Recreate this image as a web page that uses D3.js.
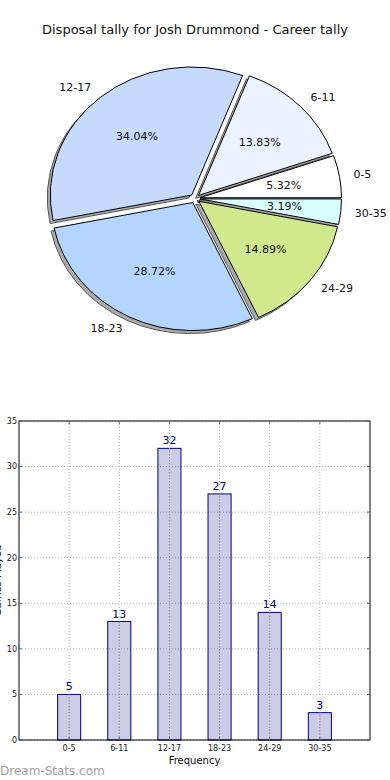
<!DOCTYPE html>
<html><head><meta charset="utf-8">
<script src="https://cdn.jsdelivr.net/npm/d3@7"></script>
<style>body{margin:0;background:#fff}svg{display:block;font-family:"DejaVu Sans",sans-serif}</style>
</head><body>
<svg id="c" width="390" height="780"></svg>
<script>
const categories = ["0-5","6-11","12-17","18-23","24-29","30-35"];
const values = [5,13,32,27,14,3];
const pieColors = ["#ffffff","#eaf1ff","#c6d9ff","#b3d5ff","#cfe98c","#daffff"];
const yTicks = [0,5,10,15,20,25,30,35];
const title = "Disposal tally for Josh Drummond - Career tally";
const xLabel = "Frequency";
const yLabel = "Games Played";

const svg = d3.select("#c");
svg.append("text").attr("x",195).attr("y",34).attr("text-anchor","middle")
  .attr("font-size",13).attr("fill","#111").text(title);

// ---- Pie ----
const cx=195, cy=198.5, rx=141.5, ratio=0.905, d=5;
const total = d3.sum(values);
const pie = d3.pie().sort(null).value(v=>v)
  .startAngle(Math.PI/2).endAngle(Math.PI/2 - 2*Math.PI);
const arcs = pie(values);
const arc = d3.arc().innerRadius(0).outerRadius(rx);
const g = svg.append("g");
arcs.forEach((a,i)=>{
  const mid = (a.startAngle + a.endAngle)/2;
  const ox = d*Math.sin(mid), oy = -d*Math.cos(mid)*ratio;
  g.append("path").attr("d",arc(a))
    .attr("transform",`translate(${cx+ox-3},${cy+oy+3}) scale(1,${ratio})`)
    .attr("fill","#888").attr("fill-opacity",0.7)
    .attr("stroke","#555").attr("stroke-width",1).attr("vector-effect","non-scaling-stroke");
});
arcs.forEach((a,i)=>{
  const mid = (a.startAngle + a.endAngle)/2;
  const ox = d*Math.sin(mid), oy = -d*Math.cos(mid)*ratio;
  g.append("path").attr("d",arc(a))
    .attr("transform",`translate(${cx+ox},${cy+oy}) scale(1,${ratio})`)
    .attr("fill",pieColors[i]).attr("stroke","#000").attr("stroke-width",1)
    .attr("vector-effect","non-scaling-stroke");
  const lx = cx + ox + 1.1*rx*Math.sin(mid);
  const ly = cy + oy - 1.1*rx*Math.cos(mid)*ratio;
  g.append("text").attr("x",lx).attr("y",ly).attr("dy","0.35em")
    .attr("text-anchor", Math.sin(mid) >= 0 ? "start" : "end")
    .attr("font-size",11).attr("fill","#111").text(categories[i]);
  const px = cx + ox + 0.6*rx*Math.sin(mid);
  const py = cy + oy - 0.6*rx*Math.cos(mid)*ratio;
  g.append("text").attr("x",px).attr("y",py).attr("dy","0.35em")
    .attr("text-anchor","middle").attr("font-size",11).attr("fill","#111")
    .text((100*values[i]/total).toFixed(2)+"%");
});

// ---- Bar chart ----
const L=19, R=370, T=421, B=740;
const x = d3.scaleLinear().domain([-1,6]).range([L,R]);
const y = d3.scaleLinear().domain([0,35]).range([B,T]);
const bg = svg.append("g");
yTicks.forEach(t=>{
  bg.append("line").attr("x1",L).attr("x2",R).attr("y1",y(t)).attr("y2",y(t))
    .attr("stroke","#b8b8b8").attr("stroke-dasharray","1,2");
});
categories.forEach((c,i)=>{
  bg.append("line").attr("x1",x(i)).attr("x2",x(i)).attr("y1",T).attr("y2",B)
    .attr("stroke","#b8b8b8").attr("stroke-dasharray","1,2");
});
const bw = 0.46;
categories.forEach((c,i)=>{
  bg.append("rect").attr("x",x(i-bw/2)).attr("width",x(bw)-x(0))
    .attr("y",y(values[i])).attr("height",y(0)-y(values[i]))
    .attr("fill","#000080").attr("fill-opacity",0.2)
    .attr("stroke","#000080").attr("stroke-width",1);
  bg.append("text").attr("x",x(i)).attr("y",y(values[i])-4).attr("text-anchor","middle")
    .attr("font-size",11).attr("fill","#000080").text(values[i]);
});
categories.forEach((c,i)=>{
  bg.append("line").attr("x1",x(i)).attr("x2",x(i)).attr("y1",y(values[i])).attr("y2",B)
    .attr("stroke","#9a9ab8").attr("stroke-dasharray","1,2");
});
bg.append("rect").attr("x",L).attr("y",T).attr("width",R-L).attr("height",B-T)
  .attr("fill","none").attr("stroke","#000").attr("stroke-width",1);
yTicks.forEach(t=>{
  bg.append("line").attr("x1",L).attr("x2",L+3).attr("y1",y(t)).attr("y2",y(t)).attr("stroke","#666");
  bg.append("line").attr("x1",R-3).attr("x2",R).attr("y1",y(t)).attr("y2",y(t)).attr("stroke","#666");
  bg.append("text").attr("x",L-2).attr("y",y(t)).attr("dy","0.35em").attr("text-anchor","end")
    .attr("font-size",8).attr("fill","#222").text(t);
});
categories.forEach((c,i)=>{
  bg.append("line").attr("x1",x(i)).attr("x2",x(i)).attr("y1",B-3).attr("y2",B).attr("stroke","#666");
  bg.append("line").attr("x1",x(i)).attr("x2",x(i)).attr("y1",T).attr("y2",T+3).attr("stroke","#666");
  bg.append("text").attr("x",x(i)).attr("y",B+11).attr("text-anchor","middle")
    .attr("font-size",8).attr("fill","#222").text(c);
});
bg.append("text").attr("x",(L+R)/2).attr("y",B+24).attr("text-anchor","middle")
  .attr("font-size",10).attr("fill","#111").text(xLabel);
bg.append("text").attr("transform",`translate(1,${(T+B)/2}) rotate(-90)`)
  .attr("text-anchor","middle").attr("font-size",10).attr("fill","#111").text(yLabel);
svg.append("text").attr("x",0).attr("y",775).attr("font-size",12)
  .attr("fill","#a0a0a0").text("Dream-Stats.com");
</script>
</body></html>
